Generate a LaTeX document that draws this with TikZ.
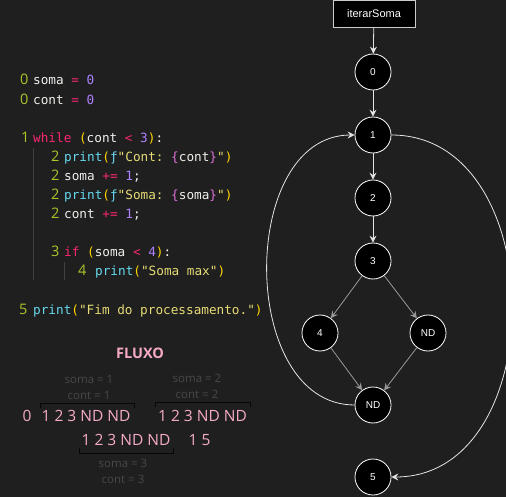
\documentclass[tikz,border=0pt]{standalone}
\usepackage{fontspec}
\setmainfont{Open Sans}
\setmonofont{DejaVu Sans Mono}
\newfontfamily\graphfont{Liberation Sans}
\usetikzlibrary{arrows.meta}
\definecolor{bgdark}{RGB}{31,31,31}
\definecolor{lnogreen}{RGB}{170,200,40}
\definecolor{kwred}{RGB}{249,38,114}
\definecolor{numpurple}{RGB}{174,129,255}
\definecolor{fncyan}{RGB}{102,217,239}
\definecolor{stryellow}{RGB}{230,219,116}
\definecolor{bracegold}{RGB}{255,215,0}
\definecolor{braceorchid}{RGB}{218,112,214}
\definecolor{idwhite}{RGB}{240,240,235}
\definecolor{flowpink}{RGB}{246,170,200}
\definecolor{notegray}{RGB}{72,72,72}
\definecolor{guidegray}{RGB}{64,64,64}
\newcommand\kwd[1]{\textcolor{kwred}{#1}}
\newcommand\opr[1]{\textcolor{kwred}{#1}}
\newcommand\nmb[1]{\textcolor{numpurple}{#1}}
\newcommand\fnc[1]{\textcolor{fncyan}{#1}}
\newcommand\strg[1]{\textcolor{stryellow}{#1}}
\newcommand\prn[1]{\textcolor{bracegold}{#1}}
\newcommand\brc[1]{\textcolor{braceorchid}{#1}}
\tikzset{
  codeline/.style={anchor=base west,inner sep=0pt,text=idwhite,font=\ttfamily\fontsize{12.7}{14}\selectfont},
  lineno/.style={anchor=base west,inner sep=0pt,text=lnogreen,font=\fontsize{14.5}{16}\selectfont},
  flowseq/.style={inner sep=0pt,text=flowpink,font=\fontsize{15.5}{17}\selectfont},
  flownote/.style={inner sep=0pt,text=notegray,font=\fontsize{11.5}{13}\selectfont},
  bracket/.style={draw=guidegray!130,line width=0.8pt},
  cfgnode/.style={circle,draw=white,fill=black,line width=0.8pt,minimum size=36pt,inner sep=0pt,text=white,font=\graphfont\fontsize{10}{12}\selectfont},
  cfgbox/.style={rectangle,draw=white!80!black,fill=black,line width=0.8pt,minimum width=82pt,minimum height=27pt,inner sep=0pt,text=white,font=\graphfont\fontsize{11}{13}\selectfont},
  cfgarrow/.style={draw=white!90!black,line width=0.8pt,-{Stealth[length=7pt,width=7pt,inset=2.5pt]}},
  cfgdiag/.style={cfgarrow,draw=white!60!black}
}
\begin{document}
\begin{tikzpicture}[x=1pt,y=-1pt]
 \fill [bgdark] (0,0) rectangle (506,497);
 \useasboundingbox (0,0) rectangle (506,497);
 % codigo
 \draw [guidegray,line width=0.8pt] (33.5,148) -- (33.5,280);
 \draw [guidegray,line width=0.8pt] (64.5,262) -- (64.5,280);
 \node [lineno] (no0a) at (20,84.5) {0};
 \node [codeline] (c0a) at (33,84.5) {soma \opr{=} \nmb{0}};
 \node [lineno] (no0b) at (20,104.5) {0};
 \node [codeline] (c0b) at (33,104.5) {cont \opr{=} \nmb{0}};
 \node [lineno] (no1) at (21,142.5) {1};
 \node [codeline] (c1) at (33,142.5) {\kwd{while} \prn{(}cont \opr{<} \nmb{3}\prn{)}:};
 \node [lineno] (no2a) at (51,161.5) {2};
 \node [codeline] (c2a) at (64,161.5) {\fnc{print}\prn{(}\fnc{ƒ}\strg{"Cont: }\brc{\{}cont\brc{\}}\strg{"}\prn{)}};
 \node [lineno] (no2b) at (51,180.5) {2};
 \node [codeline] (c2b) at (64,180.5) {soma \opr{+=} \nmb{1};};
 \node [lineno] (no2c) at (51,199.5) {2};
 \node [codeline] (c2c) at (64,199.5) {\fnc{print}\prn{(}\fnc{ƒ}\strg{"Soma: }\brc{\{}soma\brc{\}}\strg{"}\prn{)}};
 \node [lineno] (no2d) at (51,218.5) {2};
 \node [codeline] (c2d) at (64,218.5) {cont \opr{+=} \nmb{1};};
 \node [lineno] (no3) at (51,256.5) {3};
 \node [codeline] (c3) at (64,256.5) {\kwd{if} \prn{(}soma \opr{<} \nmb{4}\prn{)}:};
 \node [lineno] (no4) at (78,275.5) {4};
 \node [codeline] (c4) at (95,275.5) {\fnc{print}\prn{(}\strg{"Soma max"}\prn{)}};
 \node [lineno] (no5) at (19,314.5) {5};
 \node [codeline] (c5) at (33,314.5) {\fnc{print}\prn{(}\strg{"Fim do processamento."}\prn{)}};
 % fluxo
 \node [text=flowpink,font=\bfseries\fontsize{14.5}{16}\selectfont,inner sep=0pt] (fluxo) at (140,353) {FLUXO};
 \node [flownote] (soma1) at (89,379) {soma = 1};
 \node [flownote] (cont1) at (89,395) {cont = 1};
 \node [flownote] (soma2) at (197,378) {soma = 2};
 \node [flownote] (cont2) at (197,394) {cont = 2};
 \draw [bracket] (40,408) -- (40,403) -- (134,403) -- (134,408);
 \draw [bracket] (155,407) -- (155,402) -- (250,402) -- (250,407);
 \node [flowseq] (seq0) at (27,416) {0};
 \node [flowseq] (seq1) at (86,416) {1 2 3 ND ND};
 \node [flowseq] (seq2) at (202.5,416) {1 2 3 ND ND};
 \node [flowseq] (seq3) at (126,440) {1 2 3 ND ND};
 \node [flowseq] (seqfim) at (199.5,440) {1 5};
 \draw [bracket] (79,448) -- (79,453) -- (173,453) -- (173,448);
 \node [flownote] (soma3) at (123,463) {soma = 3};
 \node [flownote] (cont3) at (123,479) {cont = 3};
 % grafo
 \node [cfgbox] (iterarSoma) at (374,13.5) {iterarSoma};
 \node [cfgnode] (n0) at (373,72) {0};
 \node [cfgnode] (n1) at (373,135) {1};
 \node [cfgnode] (n2) at (373,198) {2};
 \node [cfgnode] (n3) at (373,261) {3};
 \node [cfgnode] (n4) at (320,333) {4};
 \node [cfgnode] (nd3) at (428,333) {ND};
 \node [cfgnode] (nd1) at (373,405) {ND};
 \node [cfgnode] (n5) at (373,477) {5};
 \draw [cfgarrow] (iterarSoma) -- (n0);
 \draw [cfgarrow] (n0) -- (n1);
 \draw [cfgarrow] (n1) -- (n2);
 \draw [cfgarrow] (n2) -- (n3);
 \draw [cfgdiag] (n3) -- (n4);
 \draw [cfgdiag] (n3) -- (nd3);
 \draw [cfgdiag] (n4) -- (nd1);
 \draw [cfgdiag] (nd3) -- (nd1);
 \draw [cfgarrow] (nd1.west) .. controls (238,405) and (238,135) .. (n1.west);
 \draw [cfgarrow] (n1.east) .. controls (552,135) and (552,477) .. (n5.east);
\end{tikzpicture}
\end{document}
